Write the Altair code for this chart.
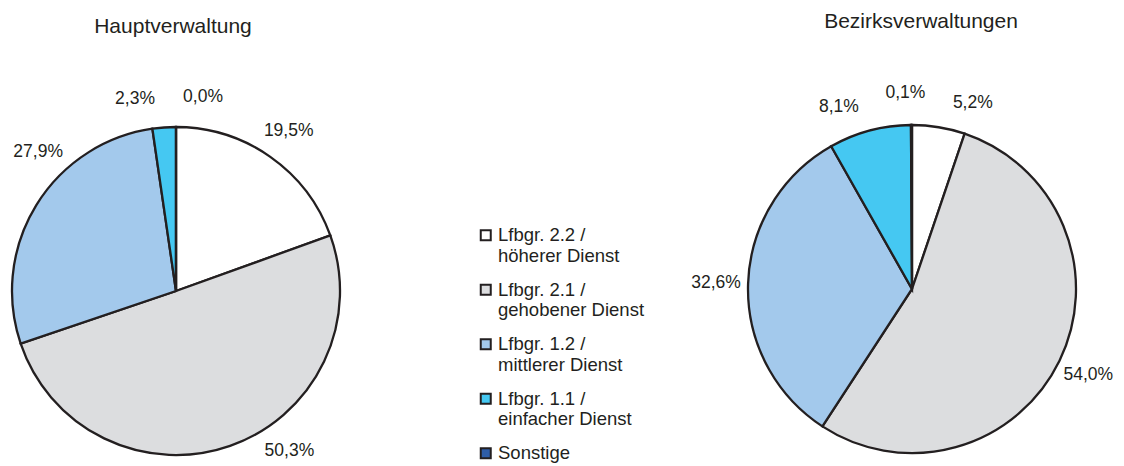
import math
import altair as alt
import pandas as pd

categories = [
    "Lfbgr. 2.2 / höherer Dienst",
    "Lfbgr. 2.1 / gehobener Dienst",
    "Lfbgr. 1.2 / mittlerer Dienst",
    "Lfbgr. 1.1 / einfacher Dienst",
    "Sonstige",
]
haupt_values = [19.5, 50.3, 27.9, 2.3, 0.0]
bezirk_values = [5.2, 54.0, 32.6, 8.1, 0.1]
colors = ["#FFFFFF", "#DCDDDF", "#A3C9EC", "#45C8F2", "#2E5DA8"]
titles = ["Hauptverwaltung", "Bezirksverwaltungen"]

FONT = "Liberation Sans"
INK = "#231F20"
W, H = 1108, 458
R = 164
LABEL_R = 196
BOX = (30, 0, 1082, 443)  # area that label centres must stay inside


def inside(cx, cy, deg):
    t = math.radians(deg)
    x = cx + LABEL_R * math.sin(t)
    y = cy - LABEL_R * math.cos(t)
    return BOX[0] <= x <= BOX[2] and BOX[1] <= y <= BOX[3]


def label_angles(values, cx, cy, min_sep=20.0):
    total = sum(values)
    cum = 0.0
    a = []
    for v in values:
        a.append((cum + v / 2.0) / total * 360.0)
        cum += v
    # keep each label inside the chart box, turning it as little as possible
    for i, m in enumerate(a):
        if inside(cx, cy, m):
            continue
        for step in range(1, 1800):
            d = step * 0.1
            if inside(cx, cy, m - d):
                a[i] = m - d
                break
            if inside(cx, cy, m + d):
                a[i] = m + d
                break
    # spread labels that would collide
    n = len(a)
    for _ in range(600):
        for i in range(n):
            j = (i + 1) % n
            gap = (a[j] - a[i]) % 360.0
            if gap < min_sep:
                push = (min_sep - gap) / 4.0
                a[i] -= push
                a[j] += push
    return [x % 360.0 for x in a]


def fmt(v):
    return f"{v:.1f}".replace(".", ",") + "%"


CENTERS = {"H": (168, 283), "B": (904, 281)}

rows = []
for pie, vals in (("H", haupt_values), ("B", bezirk_values)):
    cx, cy = CENTERS[pie]
    angs = label_angles(vals, cx, cy)
    for i, (c, v, a) in enumerate(zip(categories, vals, angs)):
        rows.append({"pie": pie, "cat": c, "idx": i, "value": v,
                     "lab_deg": a, "label": fmt(v)})
df = pd.DataFrame(rows)

color_scale = alt.Scale(domain=categories, range=colors)
legend = alt.Legend(
    title=None, orient="none", legendX=468.5, legendY=218,
    symbolType="square", symbolSize=100, symbolStrokeColor=INK,
    symbolStrokeWidth=2, labelFont=FONT, labelFontSize=18.5,
    labelColor=INK, labelLimit=400, labelOffset=3, rowPadding=14.5,
    labelBaseline="middle",
    labelExpr="indexof(datum.label, '/') > 0 ? [slice(datum.label, 0, indexof(datum.label, '/') + 1), slice(datum.label, indexof(datum.label, '/') + 2)] : [datum.label]",
)

base = alt.Chart(df)


def pie_layers(pie, show_legend):
    cx, cy = CENTERS[pie]
    arc = base.transform_filter(alt.datum.pie == pie).mark_arc(
        outerRadius=R, stroke=INK, strokeWidth=2.3
    ).encode(
        x=alt.value(cx), y=alt.value(cy),
        theta=alt.Theta("value:Q", stack=True),
        color=alt.Color("cat:N", scale=color_scale,
                        legend=legend if show_legend else None),
        order=alt.Order("idx:Q"),
    )
    txt = base.transform_filter(alt.datum.pie == pie).mark_text(
        radius=LABEL_R, font=FONT, fontSize=17.5, color=INK,
        align="center", baseline="middle"
    ).encode(
        x=alt.value(cx), y=alt.value(cy),
        theta=alt.Theta("lab_deg:Q",
                        scale=alt.Scale(domain=[0, 360], range=[0, 6.283185307])),
        text="label:N",
    )
    return [arc, txt]


title_df = pd.DataFrame({"t": titles})
t1 = alt.Chart(title_df).transform_filter(alt.datum.t == titles[0]).mark_text(
    font=FONT, fontSize=21, color=INK, align="center", baseline="alphabetic"
).encode(x=alt.value(165), y=alt.value(24.7), text="t:N")
t2 = alt.Chart(title_df).transform_filter(alt.datum.t == titles[1]).mark_text(
    font=FONT, fontSize=21, color=INK, align="center", baseline="alphabetic"
).encode(x=alt.value(913), y=alt.value(19.7), text="t:N")

layers = pie_layers("H", True) + pie_layers("B", False) + [t1, t2]

chart = alt.layer(*layers).resolve_scale(theta="independent").properties(
    width=W, height=H, padding=0, background="white",
    autosize=alt.AutoSizeParams(type="none"),
).configure_view(strokeWidth=0, stroke="transparent")

chart.save("out.html", embed_options={"renderer": "svg", "actions": False})
